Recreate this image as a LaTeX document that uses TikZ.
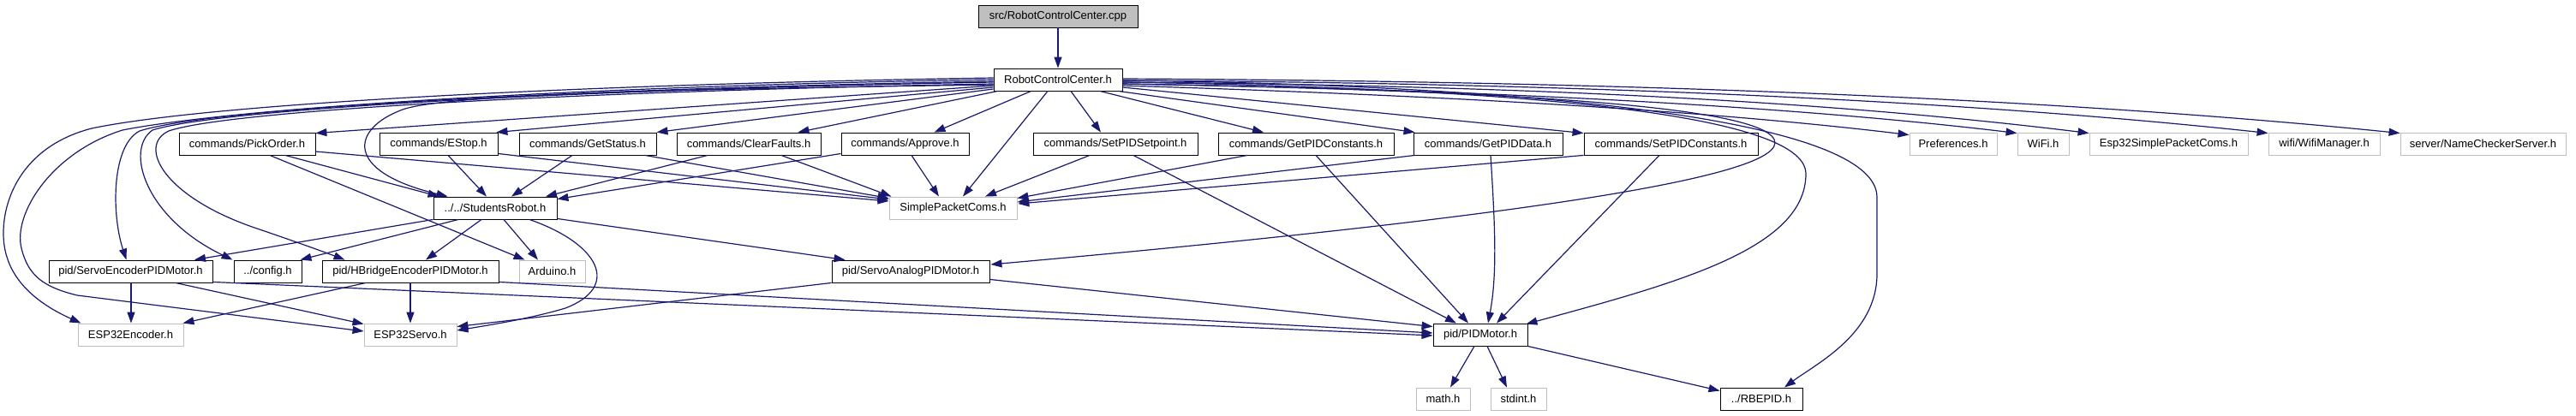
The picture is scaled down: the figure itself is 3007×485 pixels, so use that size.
\documentclass[tikz,border=0pt]{standalone}
\usepackage{fontspec}
\setmainfont{Liberation Sans}
\usetikzlibrary{arrows.meta,calc}
\definecolor{edgeblue}{HTML}{191970}
\definecolor{lgray}{HTML}{BFBFBF}
\begin{document}
\begin{tikzpicture}[x=1pt,y=-1pt,
  box/.style={rectangle, inner sep=0pt, minimum height=26pt, font=\fontsize{13}{15}\selectfont, line width=0.9pt},
  nb/.style={box, draw=black, fill=white},
  gb/.style={box, draw=lgray, fill=white},
  src/.style={box, draw=black, fill=lgray},
  edge/.style={draw=edgeblue, line width=1.2pt, -{Triangle[length=13pt,width=9pt]}}]
\useasboundingbox[fill=white] (0,0) rectangle (3007,485);
% nodes
\node[src, minimum width=186pt] (cpp) at (1235,19) {src/RobotControlCenter.cpp};
\node[nb, minimum width=150pt] (rcc) at (1235,93) {RobotControlCenter.h};
\node[nb, minimum width=159pt] (pick) at (288.5,168) {commands/PickOrder.h};
\node[nb, minimum width=138pt] (estop) at (512,168) {commands/EStop.h};
\node[nb, minimum width=160pt] (getstatus) at (686,168) {commands/GetStatus.h};
\node[nb, minimum width=168pt] (clearfaults) at (874,168) {commands/ClearFaults.h};
\node[nb, minimum width=149pt] (approve) at (1056.5,168) {commands/Approve.h};
\node[nb, minimum width=192pt] (setpoint) at (1302,168) {commands/SetPIDSetpoint.h};
\node[nb, minimum width=205pt] (getconst) at (1524.5,168) {commands/GetPIDConstants.h};
\node[nb, minimum width=174pt] (getdata) at (1737,168) {commands/GetPIDData.h};
\node[nb, minimum width=203pt] (setconst) at (1950.5,168) {commands/SetPIDConstants.h};
\node[gb, minimum width=102pt] (pref) at (2280,168) {Preferences.h};
\node[gb, minimum width=60pt] (wifi) at (2385,168) {WiFi.h};
\node[gb, minimum width=185pt] (espspc) at (2531.5,168) {Esp32SimplePacketComs.h};
\node[gb, minimum width=130pt] (wifimgr) at (2713,168) {wifi/WifiManager.h};
\node[gb, minimum width=193pt] (namechk) at (2898.5,168) {server/NameCheckerServer.h};
\node[nb, minimum width=144pt] (students) at (578,243) {../../StudentsRobot.h};
\node[gb, minimum width=149pt] (spc) at (1112.5,243) {SimplePacketComs.h};
\node[nb, minimum width=191pt] (servoenc) at (152.5,317) {pid/ServoEncoderPIDMotor.h};
\node[nb, minimum width=79pt] (config) at (312.5,317) {../config.h};
\node[nb, minimum width=206pt] (hbridge) at (479,317) {pid/HBridgeEncoderPIDMotor.h};
\node[gb, minimum width=77pt] (arduino) at (644.5,317) {Arduino.h};
\node[nb, minimum width=184pt] (servoanalog) at (1063,317) {pid/ServoAnalogPIDMotor.h};
\node[gb, minimum width=123pt] (espenc) at (152.5,391) {ESP32Encoder.h};
\node[gb, minimum width=108pt] (espservo) at (479,391) {ESP32Servo.h};
\node[nb, minimum width=110pt] (pidmotor) at (1728,391) {pid/PIDMotor.h};
\node[gb, minimum width=63pt] (math) at (1684.5,466) {math.h};
\node[gb, minimum width=65pt] (stdint) at (1772.5,466) {stdint.h};
\node[nb, minimum width=96pt] (rbepid) at (2056,466) {../RBEPID.h};
% edges
\draw[edge] (cpp) -- (rcc);
% rcc to the left row
\draw[edge] ($(rcc.west)+(0,7)$) -- ($(pick.north east)+(0,1)$);
\draw[edge] ($(rcc.west)+(0,9)$) -- ($(estop.north east)+(-2,0)$);
\draw[edge] ($(rcc.west)+(0,11)$) -- ($(getstatus.north east)+(0,0)$);
\draw[edge] ($(rcc.south west)+(5,0)$) -- ($(clearfaults.north east)+(-27,0)$);
\draw[edge] ($(rcc.south west)+(44,0)$) -- ($(approve.north)+(34,0)$);
\draw[edge] ($(rcc.south)+(-12,0)$) -- ($(spc.north)+(11.5,0)$);
\draw[edge] ($(rcc.south)+(15,0)$) -- ($(setpoint.north)+(-17,0)$);
\draw[edge] ($(rcc.south)+(49,0)$) -- ($(getconst.north)+(-49.5,0)$);
\draw[edge] ($(rcc.south east)+(-5,0)$) -- ($(getdata.north west)+(2,0)$);
\draw[edge] ($(rcc.east)+(0,9)$) -- ($(setconst.north west)+(0,1)$);
% rcc to the right row
\draw[edge] ($(rcc.east)+(0,7)$) .. controls (1700,112) and (2000,130) .. ($(pref.north west)+(0,3)$);
\draw[edge] ($(rcc.east)+(0,5)$) .. controls (1750,105) and (2100,125) .. ($(wifi.north west)+(0,1)$);
\draw[edge] ($(rcc.east)+(0,3)$) .. controls (1800,100) and (2150,120) .. ($(espspc.north west)+(0,1)$);
\draw[edge] ($(rcc.east)+(0,1)$) .. controls (1850,97) and (2300,118) .. ($(wifimgr.north west)+(0,1)$);
\draw[edge] ($(rcc.east)+(0,-1)$) .. controls (1900,95) and (2400,115) .. ($(namechk.north west)+(0,1)$);
% long curves on the right
\draw[edge] ($(rcc.east)+(0,5)$) .. controls (1700,105) and (2072,120) .. (2072,167)
  .. controls (2070,215) and (1650,265) .. ($(servoanalog.east)+(1,-8)$);
\draw[edge] ($(rcc.east)+(0,3)$) .. controls (1750,103) and (2108,130) .. (2108,203)
  .. controls (2108,290) and (1960,330) .. ($(pidmotor.north east)+(-2,1)$);
\draw[edge] ($(rcc.east)+(0,1)$) .. controls (1800,100) and (2190,140) .. (2191,230)
  -- (2191,320) .. controls (2191,390) and (2120,425) .. ($(rbepid.north)+(27,0)$);
% long curves on the left
\draw[edge] ($(rcc.west)+(0,-2)$) .. controls (700,98) and (250,120) .. (107,150)
  .. controls (10,175) and (-5,260) .. (8,300)
  .. controls (20,340) and (60,362) .. ($(espenc.north west)+(4,0)$);
\draw[edge] ($(rcc.west)+(0,0)$) .. controls (700,100) and (280,125) .. (143,152)
  .. controls (60,178) and (15,250) .. (25,290)
  .. controls (33,322) and (50,335) .. (90,345) -- ($(espservo.west)+(0,-4)$);
\draw[edge] ($(rcc.west)+(0,2)$) .. controls (700,103) and (250,125) .. (163,153)
  .. controls (130,170) and (130,250) .. ($(servoenc.north)+(-5,0)$);
\draw[edge] ($(rcc.west)+(0,3)$) .. controls (700,104) and (260,126) .. (178,152)
  .. controls (145,175) and (170,255) .. ($(config.north west)+(-1,0)$);
\draw[edge] ($(rcc.west)+(0,5)$) .. controls (700,106) and (270,128) .. (197,153)
  .. controls (160,170) and (190,230) .. (300,267)
  .. controls (350,284) and (380,295) .. ($(hbridge.north west)+(27,0)$);
\draw[edge] ($(rcc.west)+(0,6)$) .. controls (800,104) and (520,110) .. (470,128)
  .. controls (410,150) and (400,200) .. ($(students.north west)+(17,0)$);
% row 2 edges
\draw[edge] ($(pick.south)+(44.5,0)$) -- ($(students.north west)+(7,0)$);
\draw[edge] ($(pick.south)+(26.5,0)$) -- ($(arduino.north west)+(7,0)$);
\draw[edge] ($(pick.east)+(0,9)$) -- ($(spc.west)+(0,-8)$);
\draw[edge] ($(estop.south)+(11,0)$) -- ($(students.north)+(-10,0)$);
\draw[edge] ($(estop.south east)+(0,-2)$) -- ($(spc.west)+(0,-10)$);
\draw[edge] ($(getstatus.south)+(-18,0)$) -- ($(students.north)+(19,0)$);
\draw[edge] ($(getstatus.south)+(67,0)$) -- ($(spc.north west)+(0,2)$);
\draw[edge] ($(clearfaults.south)+(-48,0)$) -- ($(students.north)+(59,0)$);
\draw[edge] ($(clearfaults.south)+(38,0)$) -- ($(spc.north west)+(3,0)$);
\draw[edge] ($(approve.south west)+(0,-2)$) -- ($(students.north east)+(0,3)$);
\draw[edge] ($(approve.south)+(7.5,0)$) -- ($(spc.north)+(-16.5,0)$);
\draw[edge] ($(setpoint.south)+(-30,0)$) -- ($(spc.north)+(37.5,0)$);
\draw[edge] ($(setpoint.south)+(21,0)$) -- ($(pidmotor.north)+(-28,0)$);
\draw[edge] ($(getconst.south)+(-68.5,0)$) -- ($(spc.north east)+(0,2)$);
\draw[edge] ($(getconst.south)+(11.5,0)$) -- ($(pidmotor.north)+(-14,0)$);
\draw[edge] ($(getdata.south west)+(2,0)$) -- ($(spc.east)+(0,-7)$);
\draw[edge] ($(getdata.south)+(3,0)$) .. controls (1745,260) and (1748,320) .. ($(pidmotor.north)+(9,0)$);
\draw[edge] ($(setconst.south west)+(0,0)$) -- ($(spc.east)+(1,-5)$);
\draw[edge] ($(setconst.south)+(-13.5,0)$) -- ($(pidmotor.north)+(19,0)$);
% StudentsRobot edges
\draw[edge] (students.south west) -- ($(servoenc.north)+(74.5,0)$);
\draw[edge] ($(students.south)+(-43,0)$) -- ($(config.north east)+(-2,0)$);
\draw[edge] ($(students.south)+(-16,0)$) -- ($(hbridge.north)+(18,0)$);
\draw[edge] ($(students.south)+(10,0)$) -- ($(arduino.north)+(-16.5,0)$);
\draw[edge] ($(students.south)+(40,0)$) .. controls (700,285) and (725,335) .. (660,360)
  .. controls (620,372) and (570,380) .. ($(espservo.east)+(0,-5)$);
\draw[edge] ($(students.south east)+(0,-1)$) -- ($(servoanalog.north west)+(16,0)$);
% motor edges
\draw[edge] ($(servoenc.south)+(0.5,0)$) -- ($(espenc.north)+(0.5,0)$);
\draw[edge] ($(servoenc.south)+(52.5,0)$) -- ($(espservo.north west)+(0,1)$);
\draw[edge] ($(servoenc.south east)+(0,-1)$) -- ($(pidmotor.west)+(0,1)$);
\draw[edge] ($(hbridge.south)+(-52,0)$) -- ($(espenc.north east)+(-1,0)$);
\draw[edge] (hbridge.south) -- (espservo.north);
\draw[edge] ($(hbridge.south east)+(0,-1)$) -- ($(pidmotor.west)+(0,-2)$);
\draw[edge] (servoanalog.south west) -- ($(espservo.north east)+(0,4)$);
\draw[edge] ($(servoanalog.south east)+(0,-4)$) -- ($(pidmotor.north west)+(0,4)$);
\draw[edge] ($(pidmotor.south)+(-7,0)$) -- ($(math.north)+(8.5,0)$);
\draw[edge] ($(pidmotor.south)+(8,0)$) -- ($(stdint.north)+(-13.5,0)$);
\draw[edge] (pidmotor.south east) -- ($(rbepid.north west)+(0,4)$);
\end{tikzpicture}
\end{document}
